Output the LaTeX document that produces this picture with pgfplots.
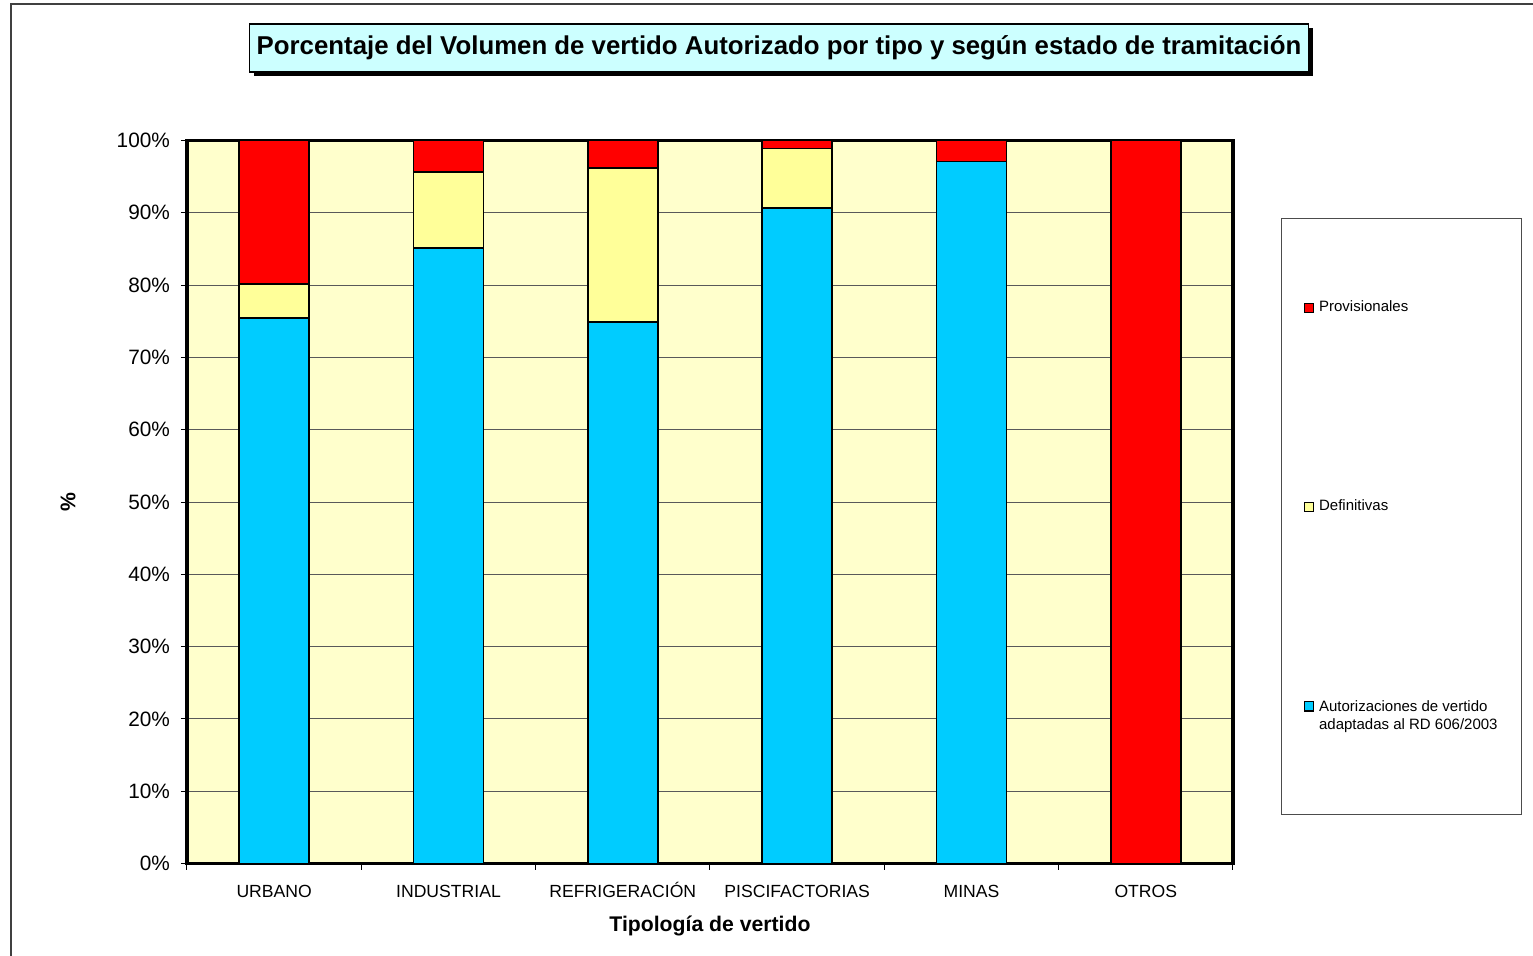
\documentclass[border=0pt]{standalone}
\usepackage{pgfplots}
\pgfplotsset{compat=1.18}
\usepackage{fontspec}
\setmainfont{Liberation Sans}
\usetikzlibrary{shadows}

\definecolor{autblue}{HTML}{00CCFF}
\definecolor{defyel}{HTML}{FFFF99}
\definecolor{provred}{HTML}{FF0000}
\definecolor{plotbg}{HTML}{FFFFCC}
\definecolor{titlebg}{HTML}{CCFFFF}

\begin{document}
\begin{tikzpicture}
% 1 px of the reference = 0.5pt
\useasboundingbox (0,0) rectangle (766.5pt,477.5pt);
\draw[black!75, line width=0.6pt] (5.5pt,-1pt) -- (5.5pt,475.5pt) -- (768pt,475.5pt);

\begin{axis}[
  at={(93.5pt,45.75pt)}, anchor=south west,
  scale only axis, width=523pt, height=361.5pt,
  ybar stacked, bar width=35pt,
  xmin=-0.5, xmax=5.5, ymin=0, ymax=100,
  axis background/.style={fill=plotbg},
  axis line style={line width=1.6pt, black},
  tick pos=left,
  xtick={0,...,5},
  xticklabels={URBANO, INDUSTRIAL, REFRIGERACIÓN, PISCIFACTORIAS, MINAS, OTROS},
  minor xtick={-0.5,0.5,...,5.5},
  major x tick style={draw=none},
  minor x tick style={black, line width=0.5pt},
  ytick={0,10,...,100},
  yticklabels={0\%,10\%,20\%,30\%,40\%,50\%,60\%,70\%,80\%,90\%,100\%},
  ytick style={black, line width=0.5pt},
  tick align=outside, major tick length=3pt, minor tick length=3pt,
  ymajorgrids, grid style={black!65, line width=0.5pt},
  xticklabel style={font=\fontsize{8.8}{10}\selectfont, yshift=-4pt,
                    text height=6.4pt, text depth=0pt},
  yticklabel style={font=\fontsize{10.4}{12}\selectfont, xshift=-2pt},
  xlabel={Tipología de vertido},
  xlabel style={font=\fontsize{10.6}{12}\selectfont\bfseries,
                at={(axis description cs:0.5,-0.0858)}, anchor=center},
  ylabel={\%},
  ylabel style={font=\fontsize{10.6}{12}\selectfont\bfseries,
                at={(axis description cs:-0.1138,0.5)}, anchor=center},
  title={Porcentaje del Volumen de vertido Autorizado por tipo y según estado de tramitación},
  title style={at={(0.566,1.1113)}, anchor=center,
               font=\fontsize{12.9}{15}\selectfont\bfseries,
               fill=titlebg, draw=black, line width=0.7pt,
               minimum width=529.5pt, minimum height=24pt, inner sep=2pt,
               drop shadow={fill=black, opacity=1, shadow xshift=2pt, shadow yshift=-2pt}},
  legend cell align=left, reverse legend,
  legend style={at={(1.0459,0.8935)}, anchor=north west,
                draw=black!70, line width=0.5pt, fill=white,
                inner xsep=11pt, inner ysep=40.5pt, row sep=90.6pt,
                font=\fontsize{7.5}{9}\selectfont,
                nodes={inner sep=1pt}},
]
% Autorizaciones de vertido adaptadas al RD 606/2003
\addplot[fill=autblue, draw=black, line width=0.9pt,
  legend image code/.code={
    \draw[fill=autblue, draw=black, line width=0.7pt] (0pt,2.25pt) rectangle (4.7pt,6.95pt);
    \path (6pt,0pt);}]
  coordinates {(0,75.4) (1,85.1) (2,74.9) (3,90.7) (4,97.1) (5,0)};
\addlegendentry[text depth=10.1pt]{\begin{tabular}[t]{@{}l@{}}Autorizaciones de vertido\\adaptadas al RD 606/2003\end{tabular}}
% Definitivas
\addplot[fill=defyel, draw=black, line width=0.9pt,
  legend image code/.code={
    \draw[fill=defyel, draw=black, line width=0.7pt] (0pt,-2.35pt) rectangle (4.7pt,2.35pt);
    \path (6pt,0pt);}]
  coordinates {(0,4.8) (1,10.5) (2,21.3) (3,8.2) (4,0) (5,0)};
\addlegendentry{Definitivas}
% Provisionales
\addplot[fill=provred, draw=black, line width=0.9pt,
  legend image code/.code={
    \draw[fill=provred, draw=black, line width=0.7pt] (0pt,-2.35pt) rectangle (4.7pt,2.35pt);
    \path (6pt,0pt);}]
  coordinates {(0,19.8) (1,4.4) (2,3.8) (3,1.1) (4,2.9) (5,100)};
\addlegendentry{Provisionales}
\end{axis}
\end{tikzpicture}
\end{document}
